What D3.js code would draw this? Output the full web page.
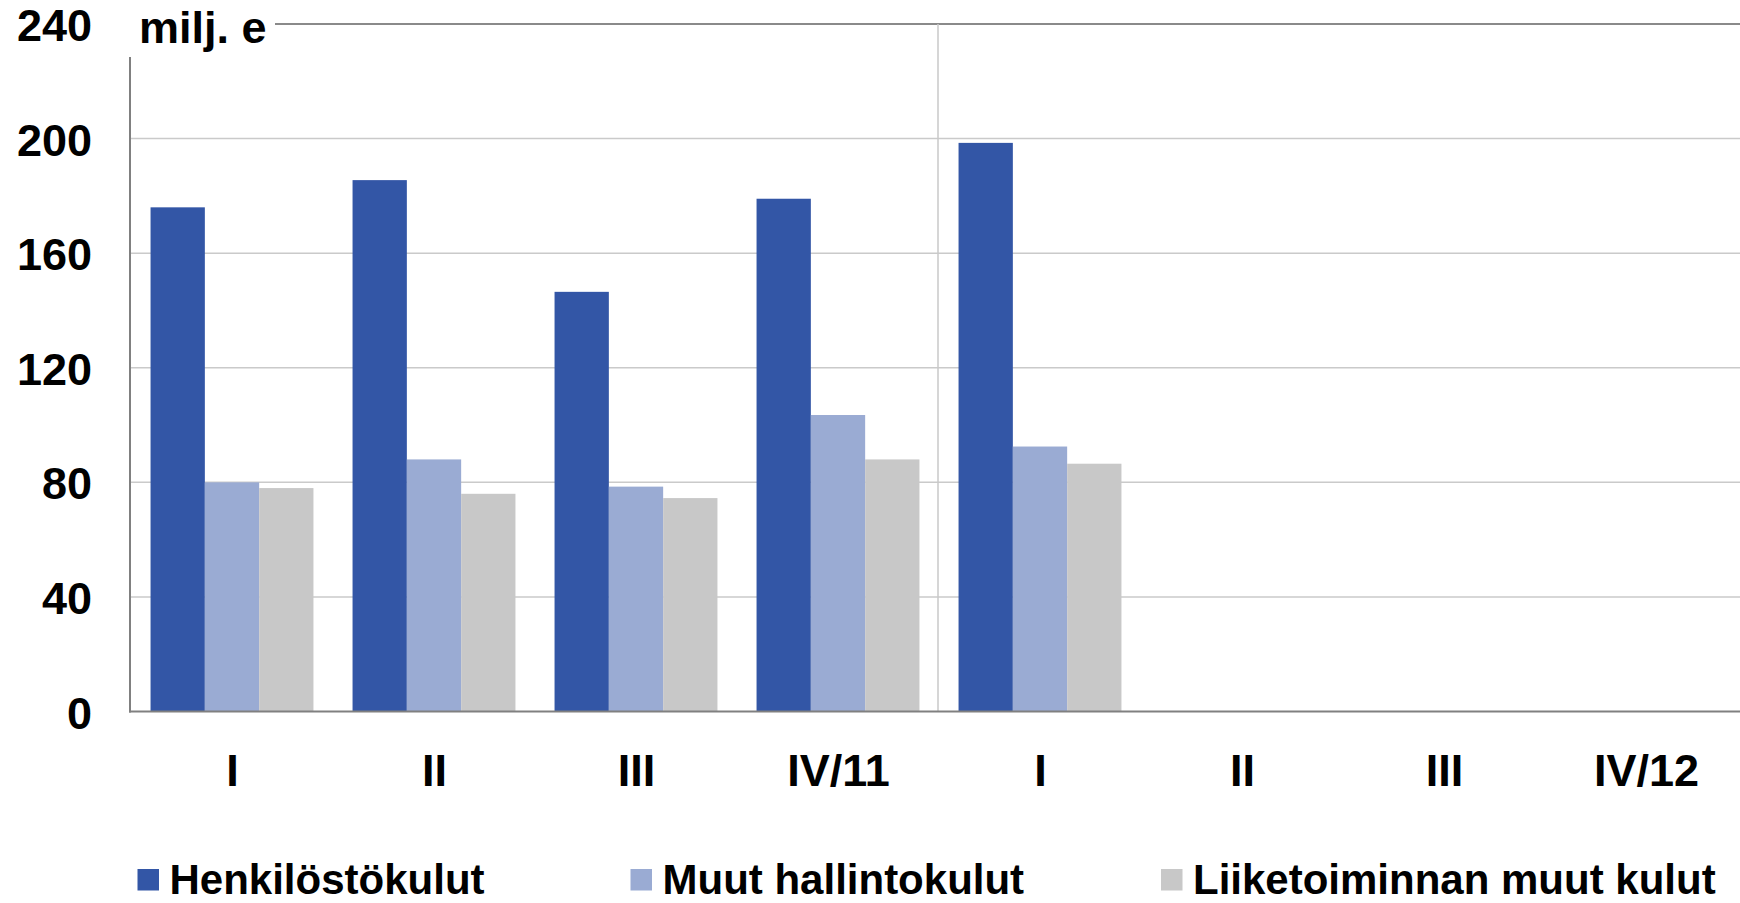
<!DOCTYPE html>
<html>
<head>
<meta charset="utf-8">
<script src="https://cdn.jsdelivr.net/npm/d3@7"></script>
<style>
  html, body { margin: 0; padding: 0; background: #fff; }
  svg { display: block; font-family: "Liberation Sans", Arial, sans-serif; font-weight: bold; }
</style>
</head>
<body>
<svg id="chart" width="1740" height="903"></svg>
<script>
// ---- data ----
const categories = ["I", "II", "III", "IV/11", "I", "II", "III", "IV/12"];
const seriesNames = ["Henkilöstökulut", "Muut hallintokulut", "Liiketoiminnan muut kulut"];
const henkilostokulut = [176, 185.5, 146.5, 179, 198.5, null, null, null];
const muutHallintokulut = [80, 88, 78.5, 103.5, 92.5, null, null, null];
const liiketoiminnanMuutKulut = [78, 76, 74.5, 88, 86.5, null, null, null];
const yTicks = [0, 40, 80, 120, 160, 200, 240];
const unitLabel = "milj. e";
const colors = ["#3356a6", "#9aabd3", "#c8c8c8"];

(function () {
const seriesValues = [henkilostokulut, muutHallintokulut, liiketoiminnanMuutKulut];
const table = categories.map((c, i) => ({
  key: i,
  label: c,
  values: seriesValues.map((s, j) => ({ series: j, value: s[i] }))
}));

// ---- layout ----
const W = 1740;
const mLeft = 130, mRight = 1746, mTop = 24, mBottom = 711.5;
const svg = d3.select("#chart");

const x0 = d3.scaleBand().domain(table.map(d => d.key)).range([mLeft, mRight]).paddingInner(0).paddingOuter(0);
const x1 = d3.scaleBand().domain(d3.range(seriesNames.length)).range([1, x0.bandwidth() + 1]).paddingInner(0).paddingOuter(0.36);
const y = d3.scaleLinear().domain([0, 240]).range([mBottom, mTop]);

// gridlines
svg.append("g")
  .selectAll("line")
  .data(yTicks.filter(t => t > 0 && t < 240))
  .join("line")
  .attr("x1", mLeft).attr("x2", W)
  .attr("y1", d => y(d)).attr("y2", d => y(d))
  .attr("stroke", "#cacaca").attr("stroke-width", 1.5);

// top border line (starts after unit label)
svg.append("line")
  .attr("x1", 275).attr("x2", W)
  .attr("y1", y(240)).attr("y2", y(240))
  .attr("stroke", "#8a8a8a").attr("stroke-width", 1.8);

// divider between years
svg.append("line")
  .attr("x1", x0(4)).attr("x2", x0(4))
  .attr("y1", y(240)).attr("y2", y(0))
  .attr("stroke", "#c8c8c8").attr("stroke-width", 1.5);

// bars
const groups = svg.append("g")
  .selectAll("g")
  .data(table)
  .join("g")
  .attr("transform", d => `translate(${x0(d.key)},0)`);

groups.selectAll("rect")
  .data(d => d.values.filter(v => v.value != null))
  .join("rect")
  .attr("x", d => x1(d.series))
  .attr("width", x1.bandwidth())
  .attr("y", d => y(d.value))
  .attr("height", d => y(0) - y(d.value))
  .attr("fill", d => colors[d.series]);

// y axis line
svg.append("line")
  .attr("x1", mLeft).attr("x2", mLeft)
  .attr("y1", 57).attr("y2", y(0) + 1)
  .attr("stroke", "#808080").attr("stroke-width", 2);

// baseline
svg.append("line")
  .attr("x1", mLeft - 1).attr("x2", W)
  .attr("y1", y(0)).attr("y2", y(0))
  .attr("stroke", "#808080").attr("stroke-width", 2.2);

// y tick labels
const yAxis = d3.axisLeft(y).tickValues(yTicks).tickSize(0).tickPadding(0).tickFormat(d3.format("d"));
const yg = svg.append("g").attr("transform", `translate(92,0)`).call(yAxis);
yg.select(".domain").remove();
yg.selectAll("text")
  .attr("font-size", 45)
  .attr("font-family", "'Liberation Sans', Arial, sans-serif")
  .attr("font-weight", "bold")
  .attr("fill", "#000")
  .attr("dy", "0.37em");

// unit label
svg.append("text")
  .attr("x", 139).attr("y", 43)
  .attr("font-size", 45)
  .attr("fill", "#000")
  .text(unitLabel);

// x labels
const xAxis = d3.axisBottom(x0).tickSize(0).tickPadding(0).tickFormat(k => categories[k]);
const xg = svg.append("g").attr("transform", `translate(0,${mBottom})`).call(xAxis);
xg.select(".domain").remove();
xg.selectAll("text")
  .attr("font-size", 45)
  .attr("font-family", "'Liberation Sans', Arial, sans-serif")
  .attr("font-weight", "bold")
  .attr("fill", "#000")
  .attr("dy", null)
  .attr("x", 1.5)
  .attr("y", 74);

// legend
const legendX = [137.5, 630.5, 1161];
const leg = svg.append("g")
  .selectAll("g")
  .data(seriesNames)
  .join("g")
  .attr("transform", (d, i) => `translate(${legendX[i]},869)`);
leg.append("rect")
  .attr("width", 21.5).attr("height", 21.5)
  .attr("fill", (d, i) => colors[i]);
leg.append("text")
  .attr("x", 32).attr("y", 25)
  .attr("font-size", 42)
  .attr("fill", "#000")
  .text(d => d);
})();
</script>
</body>
</html>
